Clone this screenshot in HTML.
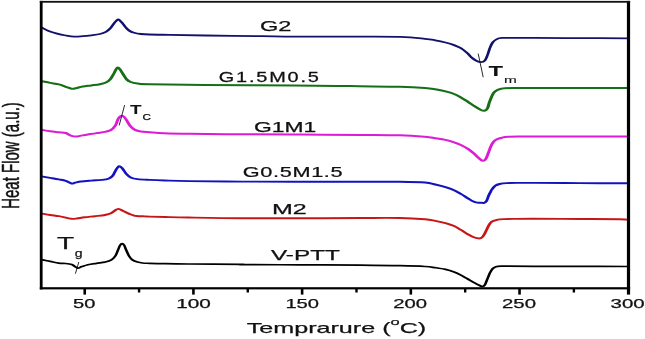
<!DOCTYPE html>
<html><head><meta charset="utf-8"><title>DSC</title>
<style>
html,body{margin:0;padding:0;background:#fff;}
body{width:645px;height:339px;overflow:hidden;font-family:"Liberation Sans",sans-serif;}
svg{display:block;will-change:transform;}
svg text{font-family:"Liberation Sans",sans-serif;fill:#111;stroke:#111;stroke-width:0.25px;}
</style></head><body>
<svg width="645" height="339" viewBox="0 0 645 339">
<rect x="0" y="0" width="645" height="339" fill="#ffffff"/>
<rect x="42" y="2" width="586" height="285" fill="#ffffff"/>
<g fill="none" stroke-width="2.0" stroke-linejoin="round" stroke-linecap="butt" transform="scale(1.55,1)">
<path d="M26.84,27.50 C27.59,28.07 29.69,29.88 31.35,30.90 C33.02,31.92 35.00,32.83 36.84,33.60 C38.68,34.37 40.55,34.98 42.39,35.50 C44.23,36.02 46.03,36.58 47.87,36.70 C49.71,36.82 51.58,36.43 53.42,36.20 C55.26,35.97 57.06,35.67 58.90,35.30 C60.74,34.93 62.88,34.57 64.45,34.00 C66.02,33.43 67.23,32.82 68.32,31.90 C69.42,30.98 70.12,30.02 71.03,28.50 C71.95,26.98 73.13,24.10 73.81,22.80 C74.48,21.50 74.69,21.28 75.10,20.70 C75.51,20.12 75.86,19.30 76.26,19.30 C76.66,19.30 77.06,20.12 77.48,20.70 C77.90,21.28 78.19,21.73 78.77,22.80 C79.35,23.87 80.23,25.82 80.97,27.10 C81.71,28.38 82.30,29.55 83.23,30.50 C84.15,31.45 85.24,32.22 86.52,32.80 C87.80,33.38 89.25,33.72 90.90,34.00 C92.56,34.28 93.32,34.35 96.45,34.50 C99.58,34.65 103.65,34.73 109.68,34.90 C115.71,35.07 122.81,35.28 132.65,35.50 C142.48,35.72 159.20,36.02 168.71,36.20 C178.22,36.38 180.16,36.52 189.68,36.60 C199.19,36.68 214.41,36.65 225.81,36.70 C237.20,36.75 250.00,36.55 258.06,36.90 C266.13,37.25 270.40,38.23 274.19,38.80 C277.99,39.37 278.63,39.68 280.84,40.30 C283.04,40.92 285.40,41.70 287.42,42.50 C289.44,43.30 291.31,44.15 292.97,45.10 C294.62,46.05 295.98,46.92 297.35,48.20 C298.73,49.48 300.03,51.18 301.23,52.80 C302.42,54.42 303.51,56.57 304.52,57.90 C305.53,59.23 306.31,60.08 307.29,60.80 C308.27,61.52 309.46,62.25 310.39,62.20 C311.31,62.15 312.16,61.63 312.84,60.50 C313.52,59.37 313.94,57.40 314.45,55.40 C314.97,53.40 315.38,50.65 315.94,48.50 C316.49,46.35 317.03,44.07 317.81,42.50 C318.58,40.93 319.57,39.86 320.58,39.10 C321.59,38.34 322.41,38.17 323.87,37.97 C325.33,37.77 325.86,37.91 329.35,37.90 C332.85,37.89 337.37,37.87 344.84,37.90 C352.31,37.93 364.09,38.03 374.19,38.10 C384.30,38.17 400.27,38.27 405.48,38.30" stroke="#12126a" stroke-width="1.8"/>
<path d="M26.84,81.20 C27.77,81.48 30.60,82.37 32.45,82.90 C34.30,83.43 36.28,83.75 37.94,84.40 C39.59,85.05 41.00,86.08 42.39,86.80 C43.77,87.52 45.16,88.47 46.26,88.70 C47.35,88.93 47.77,88.57 48.97,88.20 C50.16,87.83 51.76,86.97 53.42,86.50 C55.08,86.03 57.06,85.78 58.90,85.40 C60.74,85.02 62.88,84.68 64.45,84.20 C66.02,83.72 67.23,83.27 68.32,82.50 C69.42,81.73 70.20,81.02 71.03,79.60 C71.86,78.18 72.65,75.72 73.29,74.00 C73.94,72.28 74.45,70.37 74.90,69.30 C75.35,68.23 75.59,67.60 76.00,67.60 C76.41,67.60 76.80,68.23 77.35,69.30 C77.91,70.37 78.66,72.37 79.35,74.00 C80.05,75.63 80.72,77.77 81.55,79.10 C82.38,80.43 83.13,81.27 84.32,82.00 C85.52,82.73 86.69,83.13 88.71,83.50 C90.73,83.87 89.19,83.97 96.45,84.20 C103.71,84.43 116.72,84.67 132.26,84.90 C147.80,85.13 174.09,85.40 189.68,85.60 C205.27,85.80 214.41,85.90 225.81,86.10 C237.20,86.30 250.00,86.48 258.06,86.80 C266.13,87.12 270.40,87.58 274.19,88.00 C277.99,88.42 278.63,88.73 280.84,89.30 C283.04,89.87 285.40,90.62 287.42,91.40 C289.44,92.18 291.31,93.00 292.97,94.00 C294.62,95.00 295.88,96.12 297.35,97.40 C298.83,98.68 300.33,100.22 301.81,101.70 C303.28,103.18 304.83,104.97 306.19,106.30 C307.56,107.63 308.94,108.97 310.00,109.70 C311.06,110.43 311.84,110.90 312.58,110.70 C313.32,110.50 313.95,109.80 314.45,108.50 C314.96,107.20 315.17,104.82 315.61,102.90 C316.05,100.98 316.61,98.70 317.10,97.00 C317.58,95.30 317.88,93.87 318.52,92.70 C319.15,91.53 320.10,90.67 320.90,90.00 C321.71,89.33 322.55,89.00 323.35,88.70 C324.16,88.40 324.18,88.30 325.74,88.20 C327.30,88.10 329.53,88.13 332.71,88.10 C335.89,88.07 337.92,88.02 344.84,88.00 C351.75,87.98 364.09,87.98 374.19,88.00 C384.30,88.02 400.27,88.08 405.48,88.10" stroke="#156f15" stroke-width="2.0"/>
<path d="M26.84,129.80 C27.77,130.05 30.60,130.90 32.45,131.30 C34.30,131.70 36.28,131.92 37.94,132.20 C39.59,132.48 41.10,132.43 42.39,133.00 C43.68,133.57 44.58,135.00 45.68,135.60 C46.77,136.20 47.86,136.60 48.97,136.60 C50.08,136.60 51.03,135.95 52.32,135.60 C53.61,135.25 55.05,134.92 56.71,134.50 C58.37,134.08 60.42,133.53 62.26,133.10 C64.10,132.67 66.18,132.42 67.74,131.90 C69.30,131.38 70.51,131.03 71.61,130.00 C72.72,128.97 73.66,127.42 74.39,125.70 C75.12,123.98 75.54,121.15 76.00,119.70 C76.46,118.25 76.78,117.63 77.16,117.00 C77.54,116.37 77.87,116.02 78.26,115.90 C78.65,115.78 79.12,116.02 79.48,116.30 C79.85,116.58 80.01,116.75 80.45,117.60 C80.89,118.45 81.48,119.92 82.13,121.40 C82.77,122.88 83.49,125.08 84.32,126.50 C85.15,127.92 86.00,129.07 87.10,129.90 C88.19,130.73 89.34,131.12 90.90,131.50 C92.46,131.88 93.97,131.92 96.45,132.20 C98.94,132.48 101.58,132.93 105.81,133.20 C110.03,133.47 113.42,133.62 121.81,133.80 C130.19,133.98 144.17,134.18 156.13,134.30 C168.09,134.42 180.86,134.40 193.55,134.50 C206.24,134.60 221.51,134.77 232.26,134.90 C243.01,135.03 251.08,134.98 258.06,135.30 C265.05,135.62 270.40,136.32 274.19,136.80 C277.99,137.28 278.63,137.68 280.84,138.20 C283.04,138.72 285.40,139.22 287.42,139.90 C289.44,140.58 291.31,141.45 292.97,142.30 C294.62,143.15 295.88,143.92 297.35,145.00 C298.83,146.08 300.42,147.40 301.81,148.80 C303.19,150.20 304.48,151.83 305.68,153.40 C306.87,154.97 308.00,156.97 308.97,158.20 C309.94,159.43 310.75,160.65 311.48,160.80 C312.22,160.95 312.76,160.38 313.35,159.10 C313.95,157.82 314.47,155.23 315.03,153.10 C315.59,150.97 316.16,148.17 316.71,146.30 C317.26,144.43 317.67,143.07 318.32,141.90 C318.98,140.73 319.72,140.00 320.65,139.30 C321.57,138.60 322.69,138.12 323.87,137.70 C325.05,137.28 325.81,137.00 327.74,136.80 C329.68,136.60 332.63,136.57 335.48,136.50 C338.33,136.43 338.39,136.42 344.84,136.40 C351.29,136.38 364.09,136.38 374.19,136.40 C384.30,136.42 400.27,136.48 405.48,136.50" stroke="#dc1cd4" stroke-width="2.0"/>
<path d="M26.84,176.40 C27.77,176.65 30.60,177.40 32.45,177.90 C34.30,178.40 36.28,178.92 37.94,179.40 C39.59,179.88 41.00,180.12 42.39,180.80 C43.77,181.48 45.25,183.18 46.26,183.50 C47.27,183.82 47.44,183.03 48.45,182.70 C49.46,182.37 50.58,181.85 52.32,181.50 C54.06,181.15 56.70,180.87 58.90,180.60 C61.11,180.33 63.71,180.22 65.55,179.90 C67.39,179.58 68.74,179.40 69.94,178.70 C71.13,178.00 71.94,177.07 72.71,175.70 C73.48,174.33 74.06,171.85 74.58,170.50 C75.10,169.15 75.42,168.30 75.81,167.60 C76.19,166.90 76.53,166.37 76.90,166.30 C77.28,166.23 77.66,166.72 78.06,167.20 C78.47,167.68 78.77,168.07 79.35,169.20 C79.94,170.33 80.72,172.63 81.55,174.00 C82.38,175.37 83.13,176.55 84.32,177.40 C85.52,178.25 86.69,178.68 88.71,179.10 C90.73,179.52 93.49,179.67 96.45,179.90 C99.41,180.13 102.23,180.30 106.45,180.50 C110.68,180.70 113.53,180.92 121.81,181.10 C130.09,181.28 144.17,181.50 156.13,181.60 C168.09,181.70 180.86,181.68 193.55,181.70 C206.24,181.72 221.51,181.68 232.26,181.70 C243.01,181.72 251.08,181.67 258.06,181.80 C265.05,181.93 270.40,182.05 274.19,182.50 C277.99,182.95 278.63,183.73 280.84,184.50 C283.04,185.27 285.40,186.15 287.42,187.10 C289.44,188.05 291.31,189.07 292.97,190.20 C294.62,191.33 295.88,192.57 297.35,193.90 C298.83,195.23 300.52,196.97 301.81,198.20 C303.10,199.43 304.09,200.55 305.10,201.30 C306.11,202.05 306.95,202.47 307.87,202.70 C308.80,202.93 309.91,202.65 310.65,202.70 C311.38,202.75 311.71,203.32 312.26,203.00 C312.81,202.68 313.44,202.02 313.94,200.80 C314.43,199.58 314.84,197.07 315.23,195.70 C315.61,194.33 315.91,193.62 316.26,192.60 C316.60,191.58 316.73,190.75 317.29,189.60 C317.85,188.45 318.77,186.63 319.61,185.70 C320.45,184.77 321.12,184.43 322.32,184.00 C323.53,183.57 324.65,183.28 326.84,183.10 C329.03,182.92 332.48,182.93 335.48,182.90 C338.48,182.87 338.39,182.87 344.84,182.90 C351.29,182.93 364.09,183.03 374.19,183.10 C384.30,183.17 400.27,183.27 405.48,183.30" stroke="#1212be" stroke-width="1.9"/>
<path d="M26.84,213.60 C27.77,213.83 30.60,214.57 32.45,215.00 C34.30,215.43 36.28,215.77 37.94,216.20 C39.59,216.63 41.00,217.17 42.39,217.60 C43.77,218.03 45.06,218.65 46.26,218.80 C47.45,218.95 48.17,218.75 49.55,218.50 C50.92,218.25 52.59,217.68 54.52,217.30 C56.44,216.92 58.89,216.58 61.10,216.20 C63.30,215.82 65.99,215.48 67.74,215.00 C69.49,214.52 70.51,214.10 71.61,213.30 C72.72,212.50 73.61,210.93 74.39,210.20 C75.16,209.47 75.65,208.95 76.26,208.90 C76.87,208.85 77.42,209.45 78.06,209.90 C78.71,210.35 79.45,211.08 80.13,211.60 C80.81,212.12 81.46,212.55 82.13,213.00 C82.80,213.45 83.46,213.90 84.13,214.30 C84.80,214.70 85.46,215.12 86.13,215.40 C86.80,215.68 86.89,215.83 88.13,216.00 C89.37,216.17 92.16,216.30 93.55,216.40 C94.94,216.50 94.30,216.50 96.45,216.60 C98.60,216.70 102.23,216.85 106.45,217.00 C110.68,217.15 113.53,217.30 121.81,217.50 C130.09,217.70 144.17,218.07 156.13,218.20 C168.09,218.33 180.86,218.33 193.55,218.30 C206.24,218.27 221.51,218.05 232.26,218.00 C243.01,217.95 251.08,217.78 258.06,218.00 C265.05,218.22 270.40,218.82 274.19,219.30 C277.99,219.78 278.63,220.27 280.84,220.90 C283.04,221.53 285.40,222.25 287.42,223.10 C289.44,223.95 291.31,224.87 292.97,226.00 C294.62,227.13 295.88,228.53 297.35,229.90 C298.83,231.27 300.42,232.97 301.81,234.20 C303.19,235.43 304.43,236.58 305.68,237.30 C306.92,238.02 308.39,238.50 309.29,238.50 C310.19,238.50 310.57,238.00 311.10,237.30 C311.62,236.60 312.00,235.48 312.45,234.30 C312.90,233.12 313.35,231.60 313.81,230.20 C314.26,228.80 314.75,227.05 315.16,225.90 C315.57,224.75 315.88,224.02 316.26,223.30 C316.63,222.58 316.71,222.18 317.42,221.60 C318.13,221.02 319.25,220.22 320.52,219.80 C321.78,219.38 323.18,219.25 325.03,219.10 C326.88,218.95 328.31,218.95 331.61,218.90 C334.91,218.85 337.74,218.78 344.84,218.80 C351.94,218.82 365.00,218.93 374.19,219.00 C383.39,219.07 394.78,219.08 400.00,219.20 C405.22,219.32 404.57,219.62 405.48,219.70" stroke="#c81616" stroke-width="1.9"/>
<path d="M26.84,259.60 C27.77,259.90 30.60,260.82 32.45,261.40 C34.30,261.98 36.28,262.75 37.94,263.10 C39.59,263.45 41.00,263.27 42.39,263.50 C43.77,263.73 45.25,263.98 46.26,264.50 C47.27,265.02 47.77,266.00 48.45,266.60 C49.13,267.20 49.59,268.10 50.32,268.10 C51.05,268.10 51.77,267.17 52.84,266.60 C53.90,266.03 55.14,265.25 56.71,264.70 C58.28,264.15 60.42,263.73 62.26,263.30 C64.10,262.87 66.18,262.62 67.74,262.10 C69.30,261.58 70.51,261.22 71.61,260.20 C72.72,259.18 73.66,257.62 74.39,256.00 C75.12,254.38 75.48,252.28 76.00,250.50 C76.52,248.72 77.02,246.47 77.48,245.30 C77.95,244.13 78.33,243.50 78.77,243.50 C79.22,243.50 79.67,244.13 80.13,245.30 C80.59,246.47 81.03,248.72 81.55,250.50 C82.06,252.28 82.58,254.43 83.23,256.00 C83.87,257.57 84.51,258.88 85.42,259.90 C86.33,260.92 87.61,261.58 88.71,262.10 C89.81,262.62 90.71,262.80 92.00,263.00 C93.29,263.20 94.04,263.18 96.45,263.30 C98.86,263.42 102.23,263.58 106.45,263.70 C110.68,263.82 113.63,263.90 121.81,264.00 C129.98,264.10 149.66,264.18 155.48,264.30 C161.31,264.42 150.43,264.62 156.77,264.70 C163.12,264.78 180.97,264.72 193.55,264.80 C206.13,264.88 221.51,265.05 232.26,265.20 C243.01,265.35 251.08,265.48 258.06,265.70 C265.05,265.92 270.40,266.17 274.19,266.50 C277.99,266.83 278.63,267.22 280.84,267.70 C283.04,268.18 285.40,268.68 287.42,269.40 C289.44,270.12 291.31,271.05 292.97,272.00 C294.62,272.95 295.88,273.93 297.35,275.10 C298.83,276.27 300.33,277.72 301.81,279.00 C303.28,280.28 304.91,281.72 306.19,282.80 C307.47,283.88 308.66,284.88 309.48,285.50 C310.31,286.12 310.60,286.62 311.16,286.50 C311.72,286.38 312.29,286.05 312.84,284.80 C313.39,283.55 313.90,281.00 314.45,279.00 C315.00,277.00 315.57,274.52 316.13,272.80 C316.69,271.08 317.16,269.72 317.81,268.70 C318.45,267.68 319.09,267.13 320.00,266.70 C320.91,266.26 322.10,266.18 323.29,266.09 C324.48,266.00 323.57,266.09 327.16,266.13 C330.75,266.17 337.00,266.27 344.84,266.30 C352.68,266.33 364.09,266.27 374.19,266.30 C384.30,266.33 400.27,266.47 405.48,266.50" stroke="#000000" stroke-width="1.7"/>
</g>
<g stroke="#111" stroke-width="0.9" fill="none">
<line x1="124.6" y1="105.1" x2="119.2" y2="125.4"/>
<line x1="78.8" y1="262.0" x2="75.4" y2="273.7"/>
<line x1="478.2" y1="53.6" x2="483.2" y2="77.2"/>
</g>
<g fill="#000">
<rect x="39.8" y="0.9" width="2.8" height="288.5"/>
<rect x="626.9" y="0.9" width="3.2" height="293.7"/>
<rect x="39.8" y="0.9" width="590.3" height="1.8" fill="#111"/>
<rect x="39.8" y="287.2" width="590.3" height="2.2"/>
<rect x="83.43" y="288" width="2.6" height="6.6"/>
<rect x="137.88" y="288" width="2.4" height="4.5"/>
<rect x="192.13" y="288" width="2.6" height="6.6"/>
<rect x="246.58" y="288" width="2.4" height="4.5"/>
<rect x="300.83" y="288" width="2.6" height="6.6"/>
<rect x="355.28" y="288" width="2.4" height="4.5"/>
<rect x="409.53" y="288" width="2.6" height="6.6"/>
<rect x="463.98" y="288" width="2.4" height="4.5"/>
<rect x="518.23" y="288" width="2.6" height="6.6"/>
<rect x="572.68" y="288" width="2.4" height="4.5"/>
</g>
<text x="260.0" y="30.8" font-size="14.7" textLength="31.4" lengthAdjust="spacingAndGlyphs">G2</text>
<text transform="translate(218.8,81.6) scale(1.420,1)" font-size="14.0" textLength="70.49" lengthAdjust="spacing">G1.5M0.5</text>
<text x="254.0" y="131.5" font-size="14.0" textLength="62.2" lengthAdjust="spacingAndGlyphs">G1M1</text>
<text transform="translate(242.8,177.1) scale(1.550,1)" font-size="14.0" textLength="64.39" lengthAdjust="spacing">G0.5M1.5</text>
<text x="272.0" y="213.8" font-size="15.0" textLength="34.8" lengthAdjust="spacingAndGlyphs">M2</text>
<text x="271.0" y="259.6" font-size="14.5" textLength="68.8" lengthAdjust="spacingAndGlyphs">V-PTT</text>
<text x="73.0" y="307.5" font-size="12.0" textLength="22.3" lengthAdjust="spacingAndGlyphs">50</text>
<text x="176.2" y="307.5" font-size="12.0" textLength="34.6" lengthAdjust="spacingAndGlyphs">100</text>
<text x="285.4" y="307.5" font-size="12.0" textLength="33.6" lengthAdjust="spacingAndGlyphs">150</text>
<text x="393.2" y="307.5" font-size="12.0" textLength="33.8" lengthAdjust="spacingAndGlyphs">200</text>
<text x="502.0" y="307.5" font-size="12.0" textLength="34.0" lengthAdjust="spacingAndGlyphs">250</text>
<text x="610.6" y="307.5" font-size="12.0" textLength="34.0" lengthAdjust="spacingAndGlyphs">300</text>
<text x="246.7" y="333.3" font-size="15" textLength="179.5" lengthAdjust="spacingAndGlyphs">Temprarure (<tspan font-size="9.8" dy="-8.3">o</tspan><tspan dy="8.3">C)</tspan></text>
<text x="129.9" y="113.6" font-size="12.0" textLength="11.6" lengthAdjust="spacingAndGlyphs" font-weight="bold" style="stroke-width:0">T</text>
<text x="142.6" y="119.5" font-size="8.4" textLength="8.4" lengthAdjust="spacingAndGlyphs">C</text>
<text x="56.9" y="249.2" font-size="16.0" textLength="17.1" lengthAdjust="spacingAndGlyphs" stroke="#111" stroke-width="0.25">T</text>
<text x="74.7" y="256.6" font-size="10.7" textLength="7.8" lengthAdjust="spacingAndGlyphs" stroke="#111" stroke-width="0.2">g</text>
<text x="488.4" y="75.6" font-size="14.6" textLength="14.6" lengthAdjust="spacingAndGlyphs" font-weight="bold" style="stroke-width:0">T</text>
<text x="504.0" y="83.1" font-size="9.1" textLength="12.8" lengthAdjust="spacingAndGlyphs" style="stroke-width:0.1px">m</text>
<g transform="translate(18.8,207.6) rotate(-90) scale(1,1.56)">
<text x="-1.2" y="0" font-size="15" textLength="106.6" lengthAdjust="spacingAndGlyphs" style="stroke-width:0.35px">Heat Flow (a.u.)</text>
</g>
</svg>
</body></html>
